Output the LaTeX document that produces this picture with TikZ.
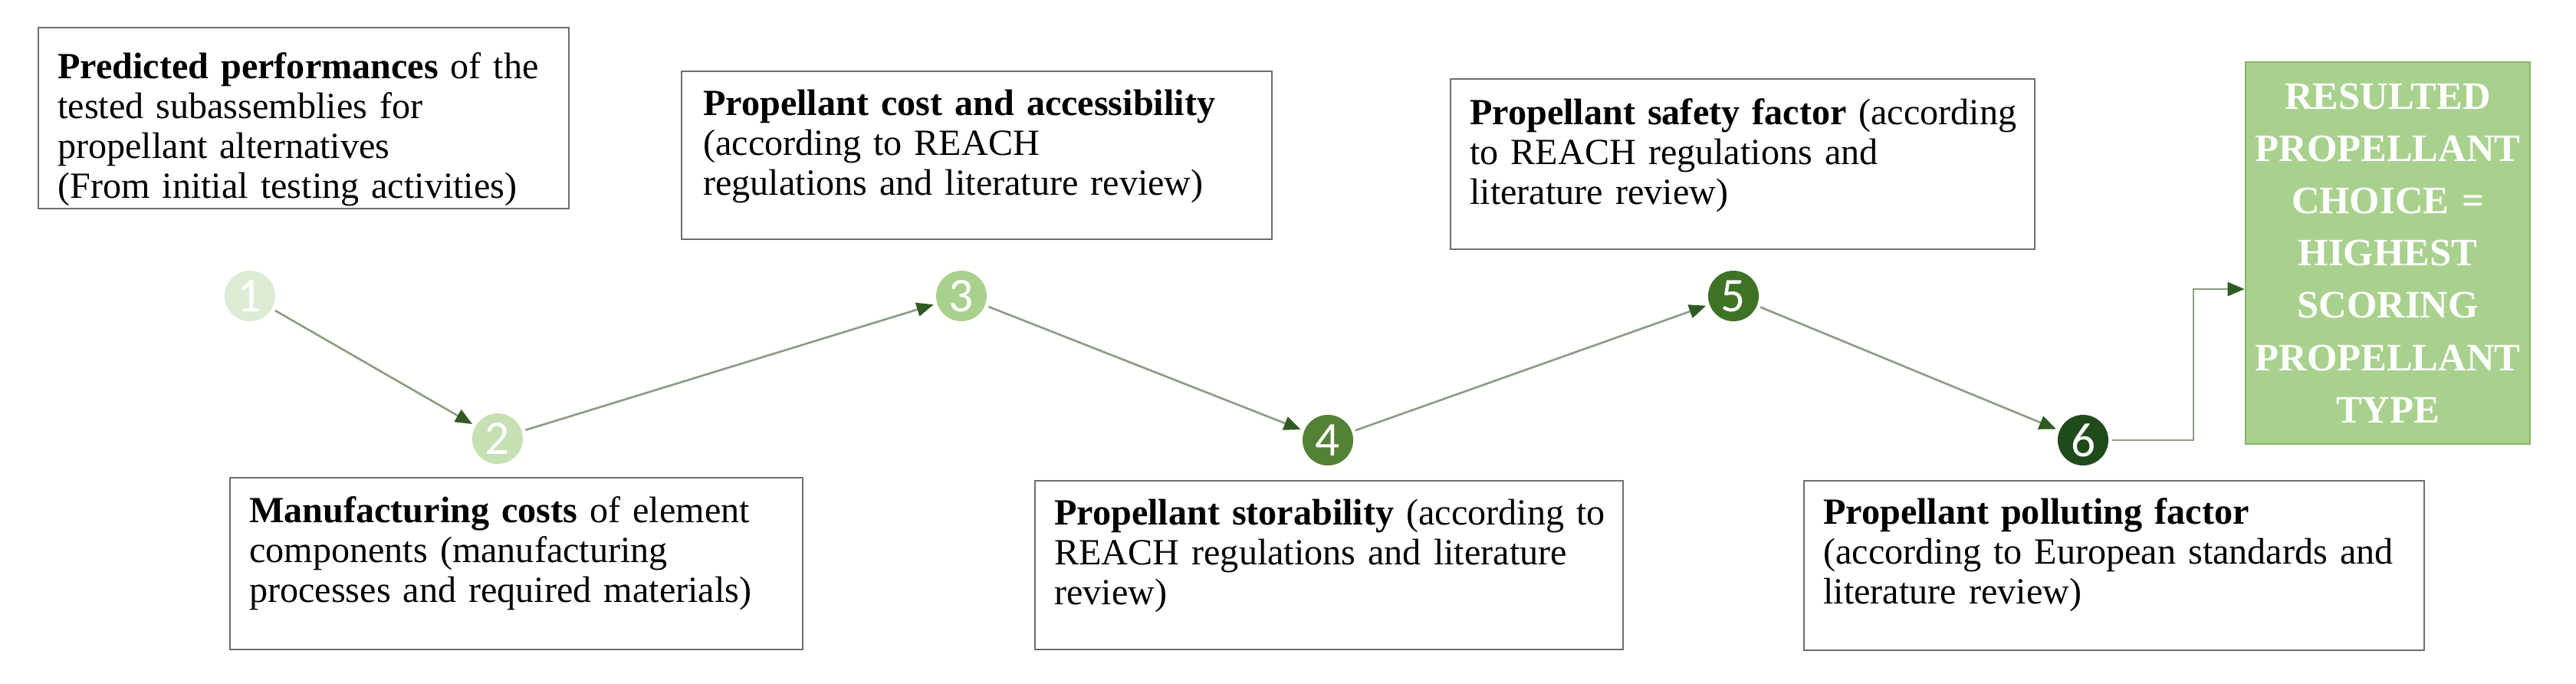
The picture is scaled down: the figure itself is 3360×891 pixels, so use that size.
\documentclass[tikz,border=0pt]{standalone}
\usepackage{fontspec}
\setmainfont{Liberation Serif}
\newfontfamily\numfont{Carlito}
\usetikzlibrary{arrows.meta}
\hyphenpenalty=10000
\exhyphenpenalty=10000
\definecolor{boxgray}{HTML}{6E6E6E}
\definecolor{linegreen}{HTML}{8A9E80}
\definecolor{tipgreen}{HTML}{2F5A22}
\definecolor{cA}{HTML}{DDEBD4}
\definecolor{cB}{HTML}{C5E0B3}
\definecolor{cC}{HTML}{A9D18E}
\definecolor{cD}{HTML}{538135}
\definecolor{cE}{HTML}{3E7326}
\definecolor{cF}{HTML}{1F4A1C}
\definecolor{gfill}{HTML}{A9D18E}
\definecolor{gdraw}{HTML}{86B46A}
\begin{document}
\begin{tikzpicture}[x=0.1mm,y=-0.1mm,
  frame/.style={draw=boxgray, line width=0.8pt, fill=white, inner sep=0pt, anchor=center},
  txt/.style={anchor=north west, align=left, inner sep=0pt,
    font=\fontsize{13.7}{14.8}\selectfont},
  num/.style={circle, minimum size=6.6mm, inner sep=0pt, outer sep=0.5mm,
    font=\numfont\fontsize{18}{18}\selectfont, text=white},
  flow/.style={draw=linegreen, line width=0.75pt,
    -{Triangle[length=2.2mm,width=1.8mm,color=tipgreen]}},
  result/.style={draw=gdraw, line width=0.8pt, fill=gfill, align=center,
    text=white, inner sep=0pt, anchor=center,
    font=\bfseries\fontsize{14.4}{19.4}\selectfont}]
\useasboundingbox (0,0) rectangle (3360,891);

% frames
\node[frame, minimum width=69.2mm, minimum height=23.6mm] (b1) at (396,154) {};
\node[frame, minimum width=74.7mm, minimum height=22.4mm] (b2) at (673.5,735) {};
\node[frame, minimum width=77.0mm, minimum height=21.9mm] (b3) at (1274,202.5) {};
\node[frame, minimum width=76.7mm, minimum height=22.0mm] (b4) at (1733.5,737) {};
\node[frame, minimum width=76.2mm, minimum height=22.2mm] (b5) at (2273,214) {};
\node[frame, minimum width=80.9mm, minimum height=22.1mm] (b6) at (2757.5,737.5) {};

% texts
\node[txt, text width=69mm] (t1) at ([xshift=2.6mm,yshift=-3.3mm]b1.north west)
  {\textbf{Predicted performances} of the\\ tested subassemblies for\\ propellant alternatives\\ (From initial testing activities)};
\node[txt, text width=74mm] (t2) at ([xshift=2.6mm,yshift=-2.5mm]b2.north west)
  {\textbf{Manufacturing costs} of element\\ components (manufacturing\\ processes and required materials)};
\node[txt, text width=76mm] (t3) at ([xshift=2.9mm,yshift=-2.5mm]b3.north west)
  {\textbf{Propellant cost and accessibility}\\ (according to REACH\\ regulations and literature review)};
\node[txt, text width=76mm] (t4) at ([xshift=2.6mm,yshift=-2.5mm]b4.north west)
  {\textbf{Propellant storability} (according to\\ REACH regulations and literature\\ review)};
\node[txt, text width=76mm] (t5) at ([xshift=2.6mm,yshift=-2.6mm]b5.north west)
  {\textbf{Propellant safety factor} (according\\ to REACH regulations and\\ literature review)};
\node[txt, text width=80mm] (t6) at ([xshift=2.6mm,yshift=-2.3mm]b6.north west)
  {\textbf{Propellant polluting factor}\\ (according to European standards and\\ literature review)};

\node[result, minimum width=37.1mm, minimum height=49.8mm, text width=36mm] (g) at (3114.5,330)
  {RESULTED\\ PROPELLANT\\ CHOICE =\\ HIGHEST\\ SCORING\\ PROPELLANT\\ TYPE};

\node[num, fill=cA] (c1) at (326,386) {1};
\node[num, fill=cB] (c2) at (649,572) {2};
\node[num, fill=cC] (c3) at (1254,386) {3};
\node[num, fill=cD] (c4) at (1732,574) {4};
\node[num, fill=cE] (c5) at (2261,386) {5};
\node[num, fill=cF] (c6) at (2717,574) {6};

\draw[flow] (c1) -- (c2);
\draw[flow] (c2) -- (c3);
\draw[flow] (c3) -- (c4);
\draw[flow] (c4) -- (c5);
\draw[flow] (c5) -- (c6);
\coordinate (e1) at (2861,377);
\draw[flow] (c6.east) -- (c6.east -| e1) |- (e1 -| g.west);
\end{tikzpicture}
\end{document}
